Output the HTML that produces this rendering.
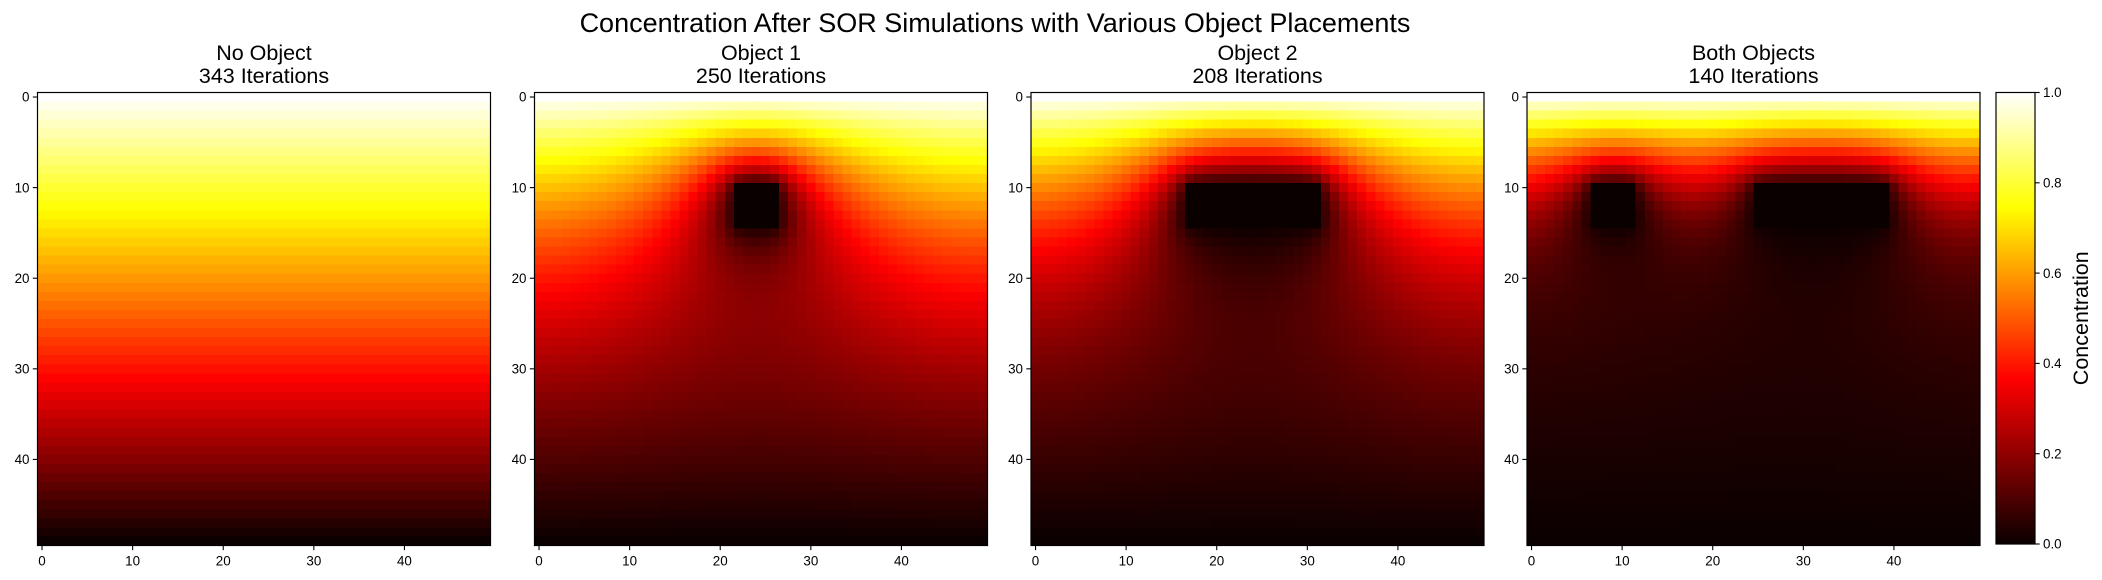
<!DOCTYPE html>
<html><head><meta charset="utf-8">
<style>
html,body{margin:0;padding:0;background:#fff;}
svg{display:block;font-family:"Liberation Sans","DejaVu Sans",sans-serif;}
</style></head>
<body>
<svg id="fig" width="2102" height="580" viewBox="0 0 2102 580" xmlns="http://www.w3.org/2000/svg">
<defs>
<linearGradient id="hotgrad" x1="0" y1="1" x2="0" y2="0">
<stop offset="0" stop-color="rgb(10,0,0)"/>
<stop offset="0.365" stop-color="rgb(255,0,0)"/>
<stop offset="0.746" stop-color="rgb(255,255,0)"/>
<stop offset="1" stop-color="rgb(255,255,255)"/>
</linearGradient>
</defs>
<text x="995" y="32" font-size="27" text-anchor="middle" fill="#000">Concentration After SOR Simulations with Various Object Placements</text>
<g id="panels"></g>
<g id="cbar"></g>
</svg>
<script>
// ---- data ----
const panelTitles = ["No Object", "Object 1", "Object 2", "Both Objects"];
const iterationCounts = [343, 250, 208, 140];
// objects as [rowStart, rowEnd, colStart, colEnd] (inclusive), per panel
const panelObjects = [
  [],
  [[10, 14, 22, 26]],
  [[10, 14, 17, 31]],
  [[10, 14, 7, 11], [10, 14, 25, 39]]
];
const gridSize = 50;
const topValue = 1.0;
const bottomValue = 0.0;
const xTicks = [0, 10, 20, 30, 40];
const yTicks = [0, 10, 20, 30, 40];
const cbarTicks = [0.0, 0.2, 0.4, 0.6, 0.8, 1.0];
const cbarTickLabels = ["0.0", "0.2", "0.4", "0.6", "0.8", "1.0"];

// ---- layout ----
const NS = "http://www.w3.org/2000/svg";
const panelLefts = [37.5, 534.5, 1031, 1527];
const axTop = 92.5, axSize = 453;
const cell = axSize / gridSize;

function mk(tag, attrs, parent) {
  const e = document.createElementNS(NS, tag);
  for (const k in attrs) e.setAttribute(k, attrs[k]);
  parent.appendChild(e);
  return e;
}
function hot(x) {
  x = Math.max(0, Math.min(1, x));
  const r = Math.min(1, 0.0416 + (1 - 0.0416) * x / 0.365079);
  const g = Math.max(0, Math.min(1, (x - 0.365079) / (0.746032 - 0.365079)));
  const b = Math.max(0, Math.min(1, (x - 0.746032) / (1 - 0.746032)));
  return "rgb(" + Math.round(r * 255) + "," + Math.round(g * 255) + "," + Math.round(b * 255) + ")";
}
function isObj(objs, i, j) {
  for (const o of objs) if (i >= o[0] && i <= o[1] && j >= o[2] && j <= o[3]) return true;
  return false;
}
function solve(objs) {
  const N = gridSize;
  const c = [];
  for (let i = 0; i < N; i++) {
    c.push([]);
    for (let j = 0; j < N; j++) c[i].push(isObj(objs, i, j) ? 0 : topValue + (bottomValue - topValue) * i / (N - 1));
  }
  const w = 1.9;
  for (let it = 0; it < 20000; it++) {
    let md = 0;
    for (let i = 1; i < N - 1; i++) for (let j = 0; j < N; j++) {
      if (isObj(objs, i, j)) continue;
      const nv = 0.25 * (c[i - 1][j] + c[i + 1][j] + c[i][(j - 1 + N) % N] + c[i][(j + 1) % N]);
      const v = (1 - w) * c[i][j] + w * nv;
      md = Math.max(md, Math.abs(v - c[i][j]));
      c[i][j] = v;
    }
    if (md < 1e-7) break;
  }
  return c;
}

const panelsG = document.getElementById("panels");
for (let p = 0; p < panelTitles.length; p++) {
  const L = panelLefts[p];
  const xS = v => L + (v + 0.5) * cell;
  const yS = v => axTop + (v + 0.5) * cell;
  const g = mk("g", {}, panelsG);
  
  
  const t = mk("text", {x: L + axSize / 2, y: 60, "font-size": 21.5, "text-anchor": "middle"}, g);
  
  
  const t1 = mk("tspan", {x: L + axSize / 2, dy: 0}, t); t1.textContent = panelTitles[p];
  const t2 = mk("tspan", {x: L + axSize / 2, dy: 23}, t); t2.textContent = iterationCounts[p] + " Iterations";
  const field = solve(panelObjects[p]);
  const cells = mk("g", {"shape-rendering": "crispEdges"}, g);
  for (let i = 0; i < gridSize; i++) for (let j = 0; j < gridSize; j++) {
    const r = mk("rect", {x: (xS(j) - cell / 2).toFixed(2), y: (yS(i) - cell / 2).toFixed(2), width: (cell + 0.4).toFixed(2), height: (cell + 0.4).toFixed(2), fill: hot(field[i][j])}, cells);
    
    
  }
  const fr = mk("rect", {x: L, y: axTop, width: axSize, height: axSize, fill: "none", stroke: "#000", "stroke-width": 1.2}, g);
  
  
  xTicks.forEach(v => {
    mk("line", {x1: xS(v), x2: xS(v), y1: axTop + axSize, y2: axTop + axSize + 4.7, stroke: "#000", "stroke-width": 1.1}, g);
    const tx = mk("text", {x: xS(v), y: axTop + axSize + 20, "font-size": 13.4, "text-anchor": "middle"}, g);
    tx.textContent = v;
    
    
  });
  yTicks.forEach(v => {
    mk("line", {x1: L - 4.7, x2: L, y1: yS(v), y2: yS(v), stroke: "#000", "stroke-width": 1.1}, g);
    const ty = mk("text", {x: L - 8, y: yS(v) + 4.7, "font-size": 13.4, "text-anchor": "end"}, g);
    ty.textContent = v;
    
    
  });
}

// colorbar
const cb = document.getElementById("cbar");
const cbL = 1996, cbW = 39, cbT = 92.5, cbH = 451.5;
const cY = v => cbT + cbH * (1 - v);
const cr = mk("rect", {x: cbL, y: cbT, width: cbW, height: cbH, fill: "url(#hotgrad)", stroke: "#000", "stroke-width": 1.2}, cb);


cbarTicks.forEach((v, k) => {
  mk("line", {x1: cbL + cbW, x2: cbL + cbW + 4.7, y1: cY(v), y2: cY(v), stroke: "#000", "stroke-width": 1.1}, cb);
  const tl = mk("text", {x: cbL + cbW + 8, y: cY(v) + 4.7, "font-size": 13.4}, cb);
  tl.textContent = cbarTickLabels[k];
  
  
});
const cl = mk("text", {x: 0, y: 0, "font-size": 21.5, "text-anchor": "middle", transform: "translate(2088," + (cbT + cbH / 2) + ") rotate(-90)"}, cb);
cl.textContent = "Concentration";


</script>
</body></html>
